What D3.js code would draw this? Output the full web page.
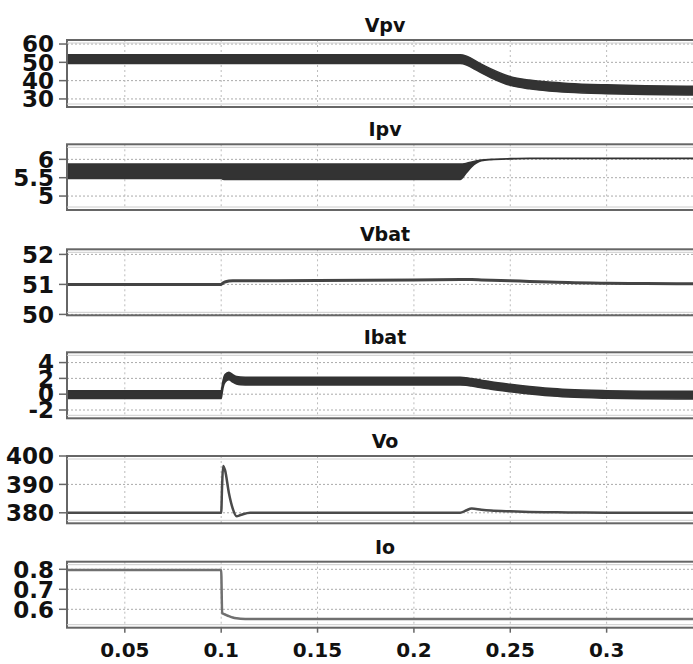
<!DOCTYPE html>
<html>
<head>
<meta charset="utf-8">
<script src="https://cdn.jsdelivr.net/npm/d3@7"></script>
<style>
  body { margin: 0; background: #fff; }
  svg { display: block; overflow: hidden; }
  text { font-family: "DejaVu Sans", Verdana, sans-serif; font-weight: bold; fill: #111; }
</style>
</head>
<body>
<div class="chart"></div>
<script>
// sample times (s)
var time = [0.02, 0.0995, 0.1, 0.1005, 0.101, 0.102, 0.104, 0.106, 0.108, 0.11, 0.115, 0.15, 0.2,
            0.224, 0.227, 0.23, 0.235, 0.24, 0.25, 0.26, 0.27, 0.28, 0.3, 0.32, 0.35];

// ripple envelopes (max / min) and single traces
var vpvMax = [54.1, 54.1, 54.1, 54.1, 54.1, 54.1, 54.1, 54.1, 54.1, 54.1, 54.1, 54.1, 54.1,
              54.1, 53.5, 52.0, 49.0, 46.4, 42.2, 40.3, 39.2, 38.5, 37.7, 37.2, 36.9];
var vpvMin = [49.3, 49.3, 49.3, 49.3, 49.3, 49.3, 49.3, 49.3, 49.3, 49.3, 49.3, 49.3, 49.3,
              49.3, 48.7, 47.2, 44.2, 41.6, 37.4, 35.5, 34.4, 33.7, 32.9, 32.4, 32.1];

var ipvMax = [5.87, 5.87, 5.87, 5.87, 5.87, 5.87, 5.87, 5.87, 5.87, 5.87, 5.87, 5.87, 5.87,
              5.87, 5.89, 5.93, 5.98, 6.0, 6.02, 6.03, 6.03, 6.03, 6.03, 6.03, 6.03];
var ipvMin = [5.48, 5.48, 5.48, 5.47, 5.46, 5.45, 5.45, 5.45, 5.45, 5.45, 5.45, 5.45, 5.45,
              5.45, 5.62, 5.8, 5.96, 5.99, 6.01, 6.02, 6.02, 6.02, 6.02, 6.02, 6.02];

var vbat = [51.0, 51.0, 51.0, 51.02, 51.05, 51.08, 51.11, 51.12, 51.12, 51.12, 51.12, 51.13, 51.15,
            51.16, 51.16, 51.16, 51.15, 51.14, 51.12, 51.1, 51.08, 51.06, 51.04, 51.03, 51.02];

var ibatMax = [0.43, 0.43, 0.43, 1.08, 1.78, 2.48, 2.78, 2.48, 2.23, 2.16, 2.13, 2.13, 2.13,
               2.13, 2.08, 1.98, 1.78, 1.58, 1.26, 0.98, 0.75, 0.6, 0.45, 0.38, 0.36];
var ibatMin = [-0.53, -0.53, -0.53, 0.12, 0.82, 1.52, 1.82, 1.52, 1.27, 1.2, 1.17, 1.17, 1.17,
               1.17, 1.12, 1.02, 0.82, 0.62, 0.3, 0.02, -0.21, -0.36, -0.51, -0.58, -0.6];

var vo = [380, 380, 380, 390, 396.5, 395, 387, 381.5, 378.8, 379.2, 380, 380, 380,
          380, 380.8, 381.5, 381.1, 380.8, 380.5, 380.3, 380.2, 380.1, 380.05, 380, 380];

var io = [0.797, 0.797, 0.797, 0.58, 0.578, 0.574, 0.566, 0.559, 0.555, 0.553, 0.552, 0.552, 0.552,
          0.552, 0.552, 0.552, 0.552, 0.552, 0.552, 0.552, 0.552, 0.552, 0.552, 0.552, 0.552];

// tick labels
var xTicks = [0.05, 0.1, 0.15, 0.2, 0.25, 0.3];
var vpvTicks = [30, 40, 50, 60];
var ipvTicks = [5, 5.5, 6];
var vbatTicks = [50, 51, 52];
var ibatTicks = [-2, 0, 2, 4];
var voTicks = [380, 390, 400];
var ioTicks = [0.6, 0.7, 0.8];

var Chart = {
    width: 693,
    height: 664,
    left: 67,
    right: 703,
    canvas: null,
    x: null,
    panels: [
        { title: "Vpv",  top: 40,    bottom: 107,   domain: [25.6, 62.2],   ticks: vpvTicks,  band: [vpvMax, vpvMin] },
        { title: "Ipv",  top: 144.3, bottom: 210,   domain: [4.62, 6.41],   ticks: ipvTicks,  band: [ipvMax, ipvMin] },
        { title: "Vbat", top: 249.3, bottom: 315.3, domain: [49.97, 52.17], ticks: vbatTicks, line: vbat, color: "#444", lw: 3 },
        { title: "Ibat", top: 352.3, bottom: 418.3, domain: [-3.05, 5.3],   ticks: ibatTicks, band: [ibatMax, ibatMin] },
        { title: "Vo",   top: 456,   bottom: 523.3, domain: [376.3, 400],   ticks: voTicks,   line: vo, color: "#4a4a4a", lw: 2.5 },
        { title: "Io",   top: 561.7, bottom: 627.7, domain: [0.508, 0.838], ticks: ioTicks,   line: io, color: "#707070", lw: 2.5 }
    ],
    init: function () {
        this.canvas = d3.select(".chart").append("svg")
            .attr("width", this.width)
            .attr("height", this.height);

        this.x = d3.scaleLinear().domain([0.02, 0.35]).range([this.left, this.right]);

        this.panels.forEach(function (p, i) {
            Chart.drawPanel(p, i);
        });
        this.addXLabels();
    },
    drawPanel: function (p, i) {
        var x = this.x;
        var y = d3.scaleLinear().domain(p.domain).range([p.bottom, p.top]);
        var g = this.canvas.append("g");

        g.append("clipPath").attr("id", "clip" + i)
            .append("rect")
            .attr("x", this.left).attr("y", p.top)
            .attr("width", this.right - this.left).attr("height", p.bottom - p.top);

        // grid
        g.selectAll(".hgrid").data(p.ticks).enter().append("line")
            .attr("x1", this.left).attr("x2", this.right)
            .attr("y1", function (d) { return y(d); })
            .attr("y2", function (d) { return y(d); })
            .attr("stroke", "#aaa").attr("stroke-width", 1)
            .attr("stroke-dasharray", "2,2");
        g.selectAll(".vgrid").data(xTicks).enter().append("line")
            .attr("x1", function (d) { return x(d); })
            .attr("x2", function (d) { return x(d); })
            .attr("y1", p.top).attr("y2", p.bottom)
            .attr("stroke", "#bbb").attr("stroke-width", 1)
            .attr("stroke-dasharray", "2,3");

        // trace
        var plot = g.append("g").attr("clip-path", "url(#clip" + i + ")");
        if (p.band) {
            var area = d3.area()
                .x(function (d, k) { return x(time[k]); })
                .y0(function (d, k) { return y(p.band[1][k]); })
                .y1(function (d, k) { return y(p.band[0][k]); })
                .curve(d3.curveMonotoneX);
            plot.append("path")
                .datum(time)
                .attr("d", area)
                .attr("fill", "#333")
                .attr("stroke", "#333")
                .attr("stroke-width", 1.5);
        } else {
            var line = d3.line()
                .x(function (d, k) { return x(time[k]); })
                .y(function (d) { return y(d); })
                .curve(d3.curveMonotoneX);
            plot.append("path")
                .datum(p.line)
                .attr("d", line)
                .attr("fill", "none")
                .attr("stroke", p.color)
                .attr("stroke-width", p.lw);
        }

        // frame (double rule top and bottom, like the scope export)
        g.append("rect")
            .attr("x", this.left).attr("y", p.top)
            .attr("width", this.right - this.left).attr("height", p.bottom - p.top)
            .attr("fill", "none").attr("stroke", "#666").attr("stroke-width", 2);
        g.selectAll(".rule").data([p.top + 3, p.bottom - 3]).enter().append("line")
            .attr("x1", this.left).attr("x2", this.right)
            .attr("y1", function (d) { return d; })
            .attr("y2", function (d) { return d; })
            .attr("stroke", "#ccc").attr("stroke-width", 1);

        // y ticks + labels
        g.selectAll(".ytick").data(p.ticks).enter().append("line")
            .attr("x1", this.left - 8).attr("x2", this.left)
            .attr("y1", function (d) { return y(d); })
            .attr("y2", function (d) { return y(d); })
            .attr("stroke", "#666").attr("stroke-width", 1.5);
        g.selectAll(".ylabel").data(p.ticks).enter().append("text")
            .attr("x", 54)
            .attr("y", function (d) { return y(d); })
            .attr("dy", "0.36em")
            .attr("text-anchor", "end")
            .attr("font-size", 23)
            .text(function (d) { return d; });

        // title
        g.append("text")
            .attr("x", (this.left + this.right) / 2)
            .attr("y", p.top - 8)
            .attr("text-anchor", "middle")
            .attr("font-size", 19)
            .text(p.title);
    },
    addXLabels: function () {
        var x = this.x;
        var last = this.panels[this.panels.length - 1];
        this.canvas.selectAll(".xtick").data(xTicks).enter().append("line")
            .attr("x1", function (d) { return x(d); })
            .attr("x2", function (d) { return x(d); })
            .attr("y1", last.bottom).attr("y2", last.bottom + 5)
            .attr("stroke", "#666").attr("stroke-width", 1.5);
        this.canvas.selectAll(".xlabel").data(xTicks).enter().append("text")
            .attr("x", function (d) { return x(d); })
            .attr("y", 657)
            .attr("text-anchor", "middle")
            .attr("font-size", 20)
            .text(function (d) { return d; });
    }
};

Chart.init();
</script>
</body>
</html>
